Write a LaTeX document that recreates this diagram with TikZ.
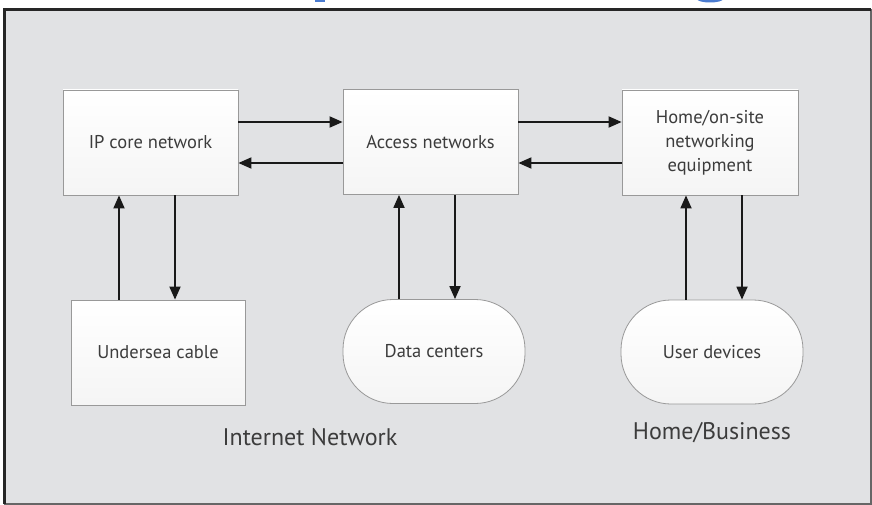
\documentclass[tikz,border=0pt]{standalone}
\usepackage{fontspec}
\setmainfont{PT Sans}
\usetikzlibrary{arrows.meta}
\definecolor{bgray}{HTML}{E1E2E4}
\definecolor{txt}{HTML}{3C3C3C}
\definecolor{ttl}{HTML}{4A7BD0}
\tikzset{
  box/.style={draw=black!40, line width=0.8pt, top color=white, bottom color=black!4,
    minimum width=175pt, minimum height=105pt, inner sep=0pt,
    font=\fontsize{18.5}{24}\selectfont, text=txt, align=center},
  pill/.style={box, rounded corners=50pt, minimum width=182pt, minimum height=104pt},
  arr/.style={line width=1.8pt, draw=black!90, -{Triangle[length=13pt,width=11pt]}},
  lbl/.style={font=\fontsize{24}{28}\selectfont, text=txt}
}
\begin{document}
\begin{tikzpicture}[x=1pt,y=-1pt]
\useasboundingbox (0,0) rectangle (872,505);
\clip (0,0) rectangle (872,505);
% title fragments (cut off)
\fill[ttl] (315,-2) rectangle (325,2.5);
\fill[ttl] (710,-1) ellipse[x radius=13, y radius=3.5];
% frame
\fill[bgray] (4,9) rectangle (871,504);
\draw[line width=1.2pt, black!60] (871,9) -- (871,504) -- (4,504);
\draw[line width=3pt, black!85] (4.5,504) -- (4.5,9.5) -- (871,9.5);
% nodes
\node[box] (ip) at (150.5,142.5) {IP core network};
\node[box] (acc) at (430.5,142) {Access networks};
\node[box, minimum width=176pt] (home) at (710,142.5) {Home/on-site\\networking\\equipment};
\node[box, minimum width=174pt] (sea) at (158,352.5) {Undersea cable};
\node[pill] (dc) at (434,351.5) {Data centers};
\node[pill] (ud) at (712,352) {User devices};
% labels
\node[lbl] (inet) at (310,437) {Internet Network};
\node[lbl] (hb) at (712,433) {Home/Business};
% horizontal connectors
\draw[arr] (ip.east |- 0,122) -- (acc.west |- 0,122);
\draw[arr] (acc.west |- 0,163) -- (ip.east |- 0,163);
\draw[arr] (acc.east |- 0,122) -- (home.west |- 0,122);
\draw[arr] (home.west |- 0,163) -- (acc.east |- 0,163);
% vertical connectors
\draw[arr] (sea.north -| 119,0) -- (ip.south -| 119,0);
\draw[arr] (ip.south -| 175,0) -- (sea.north -| 175,0);
\draw[arr] (dc.north -| 399,0) -- (acc.south -| 399,0);
\draw[arr] (acc.south -| 455,0) -- (dc.north -| 455,0);
\draw[arr] (ud.north -| 686,0) -- (home.south -| 686,0);
\draw[arr] (home.south -| 742,0) -- (ud.north -| 742,0);
\end{tikzpicture}
\end{document}
